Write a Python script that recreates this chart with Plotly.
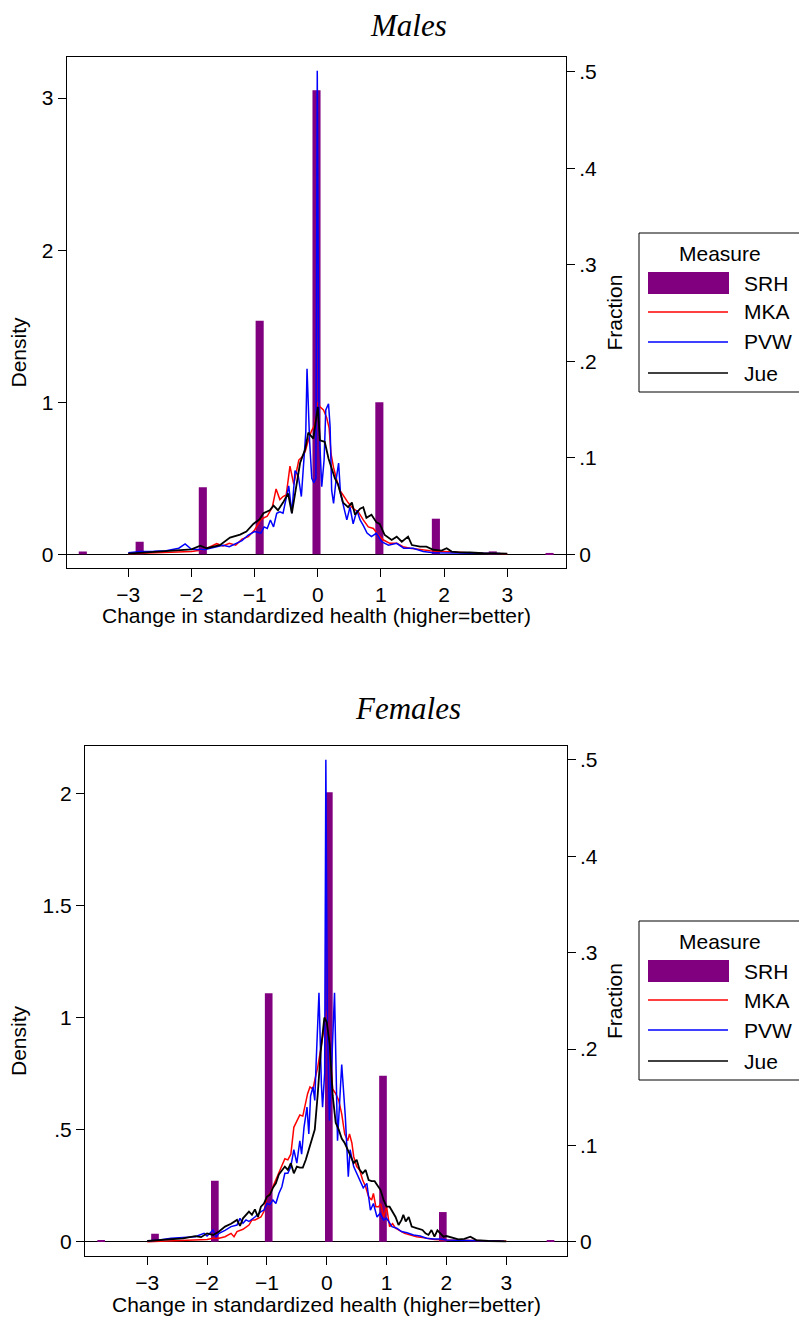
import plotly.graph_objects as go

# ============================== #
#              DATA              #
# ============================== #

# SRH histogram (fraction of respondents per bin)
srh_x_males = [-3.72, -2.82, -1.82, -0.92, -0.02, 0.975, 1.87, 2.77, 3.67]
srh_frac_males = [0.003, 0.013, 0.0695, 0.242, 0.481, 0.1576, 0.0369, 0.003, 0.0014]
srh_x_females = [-3.77, -2.87, -1.87, -0.97, 0.035, 0.94, 1.94, 2.83, 3.74]
srh_frac_females = [0.0018, 0.0083, 0.0633, 0.2578, 0.4665, 0.1723, 0.0308, 0.0018, 0.001]

# Males: density of change, MKA
mka_x_males = [-3.0, -2.5, -2.0, -1.8, -1.6, -1.5, -1.4, -1.3, -1.2, -1.1, -1.0, -0.9, -0.8,
               -0.72, -0.66, -0.6, -0.55, -0.5, -0.44, -0.38, -0.3, -0.25, -0.2, -0.15, -0.1,
               -0.05, 0.0, 0.035, 0.09, 0.14, 0.18, 0.21, 0.25, 0.30, 0.35, 0.40, 0.48, 0.56,
               0.64, 0.72, 0.80, 0.88, 0.96, 1.04, 1.14, 1.25, 1.35, 1.46, 1.62, 1.78, 1.99,
               2.25, 2.52, 3.0]
mka_y_males = [0.004, 0.009, 0.018, 0.03, 0.07, 0.055, 0.072, 0.06, 0.1, 0.116, 0.16, 0.23, 0.25,
               0.31, 0.43, 0.36, 0.38, 0.39, 0.58, 0.46, 0.62, 0.64, 0.675, 0.75, 0.81,
               0.85, 1.0, 0.97, 0.95, 0.9, 0.83, 0.66, 0.57, 0.49, 0.42, 0.39, 0.34, 0.30,
               0.28, 0.226, 0.18, 0.17, 0.127, 0.094, 0.072, 0.072, 0.05, 0.04, 0.03, 0.024, 0.018,
               0.011, 0.007, 0.004]

# Males: PVW
pvw_x_males = [-3.0, -2.8, -2.6, -2.4, -2.2, -2.1, -2.0, -1.8, -1.6, -1.5, -1.4, -1.3, -1.2,
               -1.1, -1.0, -0.9, -0.85, -0.8, -0.75, -0.7, -0.65, -0.6, -0.55, -0.5, -0.46,
               -0.41, -0.36, -0.31, -0.26, -0.22, -0.19, -0.17, -0.13, -0.095, -0.06, -0.03,
               -0.008, 0.02, 0.063, 0.1, 0.127, 0.17, 0.195, 0.22, 0.25, 0.29, 0.33, 0.36,
               0.41, 0.46, 0.51, 0.56, 0.62, 0.67, 0.72, 0.78, 0.85, 0.93, 1.01, 1.12, 1.25,
               1.36, 1.51, 1.67, 1.83, 2.1, 2.46, 2.89]
pvw_y_males = [0.01, 0.018, 0.02, 0.024, 0.04, 0.068, 0.033, 0.03, 0.05, 0.06, 0.05, 0.072, 0.09,
               0.127, 0.15, 0.14, 0.18, 0.17, 0.226, 0.18, 0.27, 0.28, 0.27, 0.37, 0.45,
               0.27, 0.55, 0.52, 0.38, 0.62, 0.8, 1.22, 0.75, 0.5, 0.47, 0.5,
               3.18, 0.84, 0.445, 0.62, 0.95, 0.99, 0.84, 0.42, 0.335, 0.49, 0.6, 0.40,
               0.31, 0.226, 0.31, 0.20, 0.29, 0.226, 0.19, 0.14, 0.116, 0.14, 0.083, 0.06, 0.072,
               0.04, 0.04, 0.018, 0.011, 0.011, 0.007, 0.005]

# Males: Jue
jue_x_males = [-3.0, -2.5, -2.0, -1.86, -1.76, -1.55, -1.39, -1.23, -1.13, -1.02, -0.92, -0.86,
               -0.76, -0.70, -0.63, -0.55, -0.47, -0.41, -0.33, -0.28, -0.20, -0.15, -0.07, 0.0,
               0.035, 0.11, 0.17, 0.22, 0.27, 0.32, 0.40, 0.48, 0.54, 0.59, 0.67, 0.72, 0.77,
               0.85, 0.93, 0.98, 1.06, 1.17, 1.25, 1.33, 1.43, 1.49, 1.62, 1.72, 1.83, 1.96,
               2.04, 2.12, 2.25, 2.41, 2.62, 3.0]
jue_y_males = [0.005, 0.018, 0.033, 0.057, 0.04, 0.06, 0.11, 0.13, 0.15, 0.2, 0.23, 0.27,
               0.29, 0.32, 0.29, 0.34, 0.40, 0.27, 0.456, 0.6, 0.69, 0.80, 0.76, 0.97,
               0.75, 0.74, 0.63, 0.57, 0.50, 0.46, 0.34, 0.31, 0.34, 0.26, 0.30, 0.31, 0.24,
               0.26, 0.21, 0.20, 0.127, 0.094, 0.116, 0.083, 0.116, 0.061, 0.05, 0.05, 0.03, 0.024,
               0.04, 0.018, 0.013, 0.012, 0.007, 0.004]

# Females: MKA
mka_x_females = [-3.0, -2.5, -2.2, -2.0, -1.9, -1.8, -1.7, -1.6, -1.55, -1.5, -1.4, -1.3, -1.25,
                 -1.2, -1.1, -1.05, -1.0, -0.95, -0.9, -0.85, -0.8, -0.75, -0.7, -0.65, -0.6,
                 -0.55, -0.5, -0.45, -0.4, -0.37, -0.32, -0.28, -0.23, -0.2, -0.15, -0.1, -0.05,
                 0.0, 0.05, 0.1, 0.15, 0.2, 0.25, 0.3, 0.35, 0.38, 0.42, 0.45, 0.5, 0.55, 0.6,
                 0.65, 0.7, 0.75, 0.78, 0.82, 0.87, 0.9, 0.95, 1.0, 1.05, 1.1, 1.15, 1.2, 1.3,
                 1.4, 1.5, 1.6, 1.8, 2.0, 2.4, 2.8, 3.0]
mka_y_females = [0.0, 0.004, 0.007, 0.01, 0.015, 0.015, 0.022, 0.037, 0.022, 0.045, 0.055, 0.074, 0.097,
                 0.097, 0.11, 0.134, 0.2, 0.215, 0.245, 0.275, 0.305, 0.335, 0.37, 0.365, 0.39,
                 0.51, 0.535, 0.565, 0.56, 0.6, 0.66, 0.69, 0.68, 0.72, 0.78, 0.86, 0.94,
                 1.03, 0.85, 0.68, 0.66, 0.63, 0.57, 0.48, 0.45, 0.48, 0.44, 0.38, 0.335, 0.32, 0.275,
                 0.245, 0.2, 0.186, 0.215, 0.156, 0.156, 0.17, 0.11, 0.156, 0.067, 0.08, 0.06, 0.052, 0.037,
                 0.03, 0.022, 0.018, 0.01, 0.007, 0.004, 0.002, 0.002]

# Females: PVW
pvw_x_females = [-3.0, -2.8, -2.6, -2.4, -2.2, -2.05, -2.0, -1.9, -1.85, -1.8, -1.7, -1.6, -1.5,
                 -1.45, -1.4, -1.35, -1.3, -1.2, -1.1, -1.05, -1.0, -0.95, -0.9, -0.85, -0.8,
                 -0.75, -0.7, -0.65, -0.6, -0.55, -0.5, -0.45, -0.42, -0.38, -0.33, -0.3, -0.27,
                 -0.23, -0.2, -0.18, -0.13, -0.09, -0.07, -0.035, -0.015, 0.01, 0.045, 0.13, 0.18,
                 0.25, 0.31, 0.36, 0.39, 0.45, 0.5, 0.56, 0.61, 0.67, 0.73, 0.78, 0.84, 0.89,
                 0.95, 1.0, 1.09, 1.17, 1.25, 1.34, 1.45, 1.56, 1.67, 1.78, 1.9, 2.0, 2.23,
                 2.57, 2.96]
pvw_y_females = [0.003, 0.007, 0.015, 0.018, 0.022, 0.037, 0.025, 0.052, 0.022, 0.037, 0.05, 0.067, 0.074,
                 0.104, 0.082, 0.097, 0.09, 0.11, 0.134, 0.14, 0.17, 0.165, 0.186, 0.17, 0.215,
                 0.245, 0.305, 0.305, 0.335, 0.41, 0.35, 0.45, 0.39, 0.51, 0.6, 0.48, 0.65,
                 0.69, 0.63, 0.78, 1.11, 0.706, 0.6, 0.75, 2.15, 1.0, 0.54, 1.11, 0.45,
                 0.79, 0.56, 0.29, 0.41, 0.335, 0.305, 0.275, 0.24, 0.26, 0.14, 0.17, 0.11, 0.126,
                 0.097, 0.104, 0.067, 0.06, 0.045, 0.04, 0.03, 0.025, 0.015, 0.012, 0.012, 0.007, 0.007,
                 0.004, 0.002]

# Females: Jue
jue_x_females = [-3.0, -2.8, -2.6, -2.4, -2.2, -2.1, -2.0, -1.9, -1.8, -1.7, -1.6, -1.5, -1.45,
                 -1.4, -1.3, -1.25, -1.2, -1.15, -1.1, -1.05, -1.0, -0.95, -0.9, -0.85, -0.8,
                 -0.75, -0.7, -0.65, -0.6, -0.55, -0.5, -0.45, -0.4, -0.35, -0.3, -0.25, -0.2,
                 -0.15, -0.1, -0.04, 0.0, 0.05, 0.1, 0.15, 0.2, 0.25, 0.3, 0.35, 0.4, 0.45, 0.5,
                 0.55, 0.6, 0.65, 0.7, 0.75, 0.8, 0.85, 0.9, 0.95, 1.0, 1.05, 1.1, 1.15, 1.2,
                 1.25, 1.28, 1.32, 1.37, 1.42, 1.5, 1.6, 1.65, 1.7, 1.75, 1.8, 1.85, 1.9, 1.95,
                 2.0, 2.1, 2.2, 2.3, 2.4, 2.5, 2.7, 3.0]
jue_y_females = [0.003, 0.007, 0.01, 0.015, 0.025, 0.02, 0.037, 0.03, 0.045, 0.067, 0.08, 0.097, 0.07,
                 0.104, 0.134, 0.12, 0.144, 0.11, 0.156, 0.17, 0.2, 0.21, 0.24, 0.26, 0.30,
                 0.32, 0.335, 0.32, 0.35, 0.305, 0.335, 0.33, 0.33, 0.365, 0.41, 0.46, 0.5,
                 0.66, 0.85, 1.0, 0.98, 0.88, 0.65, 0.53, 0.50, 0.46, 0.44, 0.41, 0.38, 0.35, 0.365,
                 0.32, 0.305, 0.32, 0.275, 0.27, 0.27, 0.25, 0.23, 0.186, 0.156, 0.156, 0.134, 0.11, 0.074,
                 0.097, 0.12, 0.09, 0.11, 0.067, 0.06, 0.052, 0.037, 0.03, 0.052, 0.022, 0.05, 0.037, 0.022,
                 0.025, 0.018, 0.01, 0.012, 0.022, 0.007, 0.003, 0.0015]

# Axis ticks
x_ticks = [-3, -2, -1, 0, 1, 2, 3]
x_tick_text = ['\u22123', '\u22122', '\u22121', '0', '1', '2', '3']
frac_ticks = [0, 0.1, 0.2, 0.3, 0.4, 0.5]
frac_tick_text = ['0', '.1', '.2', '.3', '.4', '.5']
dens_ticks_males = [0, 1, 2, 3]
dens_tick_text_males = ['0', '1', '2', '3']
dens_ticks_females = [0, 0.5, 1, 1.5, 2]
dens_tick_text_females = ['0', '.5', '1', '1.5', '2']

legend_labels = ['SRH', 'MKA', 'PVW', 'Jue']
x_title = 'Change in standardized health (higher=better)'

# ============================== #
#             FIGURE             #
# ============================== #

W, H = 807, 1318
OFF = 8  # the page body adds an 8px margin around the plot div
PURPLE = '#800080'
FONT = 'Liberation Sans, Arial, Helvetica, sans-serif'


def fx(p):
    return (p - OFF) / W


def fy(p):
    return 1 - (p - OFF) / H


panels = [
    dict(name='Males', xa='x', yf='y', yd='y2', dy=0,
         srh=(srh_x_males, srh_frac_males),
         mka=(mka_x_males, mka_y_males),
         pvw=(pvw_x_males, pvw_y_males),
         jue=(jue_x_males, jue_y_males)),
    dict(name='Females', xa='x2', yf='y3', yd='y4', dy=688,
         srh=(srh_x_females, srh_frac_females),
         mka=(mka_x_females, mka_y_females),
         pvw=(pvw_x_females, pvw_y_females),
         jue=(jue_x_females, jue_y_females)),
]

fig = go.Figure()

for p in panels:
    fig.add_trace(go.Bar(x=p['srh'][0], y=p['srh'][1], width=0.128,
                         marker=dict(color=PURPLE, line=dict(width=0)),
                         xaxis=p['xa'], yaxis=p['yf'], name='SRH', showlegend=False))
    for key, color, lw in [('mka', 'red', 1.5), ('pvw', 'blue', 1.5), ('jue', 'black', 1.8)]:
        fig.add_trace(go.Scatter(x=p[key][0], y=p[key][1], mode='lines',
                                 line=dict(color=color, width=lw),
                                 xaxis=p['xa'], yaxis=p['yd'], name=key.upper(),
                                 showlegend=False))

axis_common = dict(showline=True, linecolor='black', linewidth=1, ticks='outside',
                   ticklen=8, tickwidth=1, tickcolor='black', showgrid=False,
                   zeroline=False, tickfont=dict(size=21, color='black', family=FONT))

fig.update_layout(
    width=W, height=H,
    margin=dict(l=0, r=0, t=0, b=0),
    paper_bgcolor='white', plot_bgcolor='white',
    font=dict(family=FONT, size=21, color='black'),
    showlegend=False, barmode='overlay',
    # Males
    xaxis=dict(axis_common, domain=[fx(66.7), fx(566)], range=[-3.975, 3.93],
               anchor='y', mirror=True, tickvals=x_ticks, ticktext=x_tick_text),
    yaxis=dict(axis_common, domain=[fy(568), fy(57)], range=[-0.0142, 0.5155],
               side='right', anchor='x', tickvals=frac_ticks, ticktext=frac_tick_text,
               zeroline=True, zerolinecolor='black', zerolinewidth=1),
    yaxis2=dict(axis_common, overlaying='y', side='left', anchor='x',
                range=[-0.09, 3.27], tickvals=dens_ticks_males,
                ticktext=dens_tick_text_males),
    # Females
    xaxis2=dict(axis_common, domain=[fx(85), fx(566.7)], range=[-4.04, 4.01],
                anchor='y3', mirror=True, tickvals=x_ticks, ticktext=x_tick_text),
    yaxis3=dict(axis_common, domain=[fy(1256), fy(746)], range=[-0.0148, 0.5145],
                side='right', anchor='x2', tickvals=frac_ticks, ticktext=frac_tick_text,
                zeroline=True, zerolinecolor='black', zerolinewidth=1),
    yaxis4=dict(axis_common, overlaying='y3', side='left', anchor='x2',
                range=[-0.064, 2.211], tickvals=dens_ticks_females,
                ticktext=dens_tick_text_females),
)

annotations = []
shapes = []

for p, (top, bottom, title_y, xt_x, xt_y) in zip(
        panels, [(57, 568, 26, 316, 616), (746, 1256, 708, 326, 1304)]):
    mid = (top + bottom) / 2
    # panel title
    annotations.append(dict(text='<i>%s</i>' % p['name'], x=fx(408), y=fy(title_y),
                            xref='paper', yref='paper', showarrow=False,
                            xanchor='center', yanchor='middle',
                            font=dict(family='Liberation Serif, Times New Roman, serif',
                                      size=31)))
    # axis titles
    annotations.append(dict(text='Density', x=fx(18), y=fy(mid + 40), xref='paper', yref='paper',
                            showarrow=False, textangle=-90, xanchor='center', yanchor='middle'))
    annotations.append(dict(text='Fraction', x=fx(614), y=fy(mid), xref='paper', yref='paper',
                            showarrow=False, textangle=-90, xanchor='center', yanchor='middle'))
    annotations.append(dict(text=x_title, x=fx(xt_x), y=fy(xt_y), xref='paper', yref='paper',
                            showarrow=False, xanchor='center', yanchor='middle'))

    # legend box (drawn by hand to get Stata's wide keys)
    d = p['dy']
    shapes.append(dict(type='rect', xref='paper', yref='paper',
                       x0=fx(639), x1=fx(802), y0=fy(233 + d), y1=fy(392 + d),
                       line=dict(color='black', width=1), fillcolor='white'))
    annotations.append(dict(text='Measure', x=fx(720), y=fy(253 + d), xref='paper', yref='paper',
                            showarrow=False, xanchor='center', yanchor='middle'))
    shapes.append(dict(type='rect', xref='paper', yref='paper',
                       x0=fx(648), x1=fx(729), y0=fy(294 + d), y1=fy(272 + d),
                       line=dict(width=0), fillcolor=PURPLE))
    for ly, color in [(312, 'red'), (342, 'blue'), (373, 'black')]:
        shapes.append(dict(type='line', xref='paper', yref='paper',
                           x0=fx(648), x1=fx(728), y0=fy(ly + d), y1=fy(ly + d),
                           line=dict(color=color, width=1.5)))
    for ly, label in zip([283, 312, 342, 373], legend_labels):
        annotations.append(dict(text=label, x=fx(742), y=fy(ly + d), xref='paper', yref='paper',
                                showarrow=False, xanchor='left', yanchor='middle'))

fig.update_layout(annotations=annotations, shapes=shapes)

fig.write_html("out.html")
